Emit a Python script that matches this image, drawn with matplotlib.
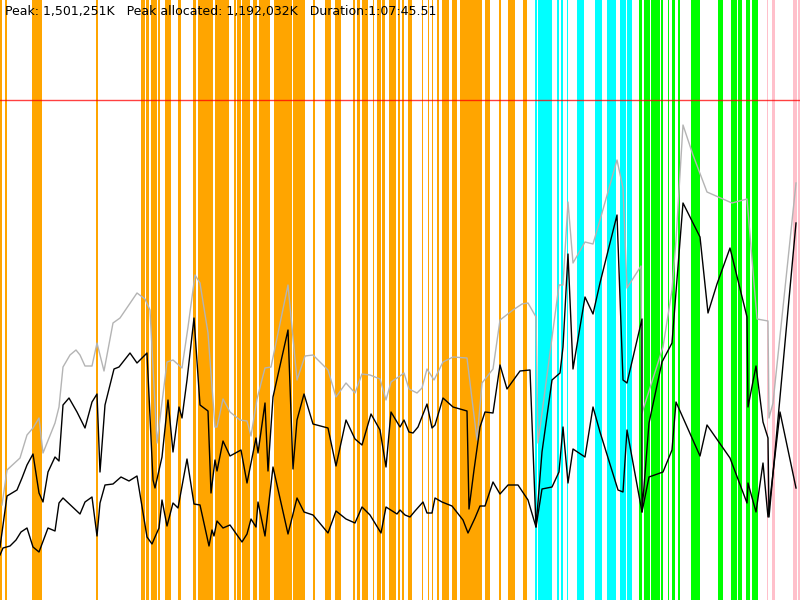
import matplotlib
matplotlib.use('Agg')
import matplotlib.pyplot as plt

# heap samples (x = time slot, value = height of the curve)
gris_x = [2, 7, 20, 27, 33, 39, 43, 55, 59, 63, 70, 76, 80, 85, 92, 97, 104, 113, 120, 137,
          145, 150, 157, 167, 173, 182, 188, 195, 200, 208, 215, 217, 223, 230, 240, 247, 251, 257, 265, 271,
          288, 297, 305, 313, 328, 336, 346, 355, 362, 370, 380, 386, 391, 400, 404, 409, 417, 422, 427, 434,
          443, 453, 467, 477, 482, 493, 500, 513, 522, 528, 536, 538, 559, 563, 568, 573, 585, 593, 600, 617,
          623, 627, 641, 642, 663, 672, 676, 683, 693, 707, 732, 747, 757, 768, 769, 773, 796]
gris_y = [95, 130, 142, 165, 172, 182, 147, 177, 193, 233, 245, 250, 245, 234, 234, 257, 229, 277, 282, 307,
          301, 290, 157, 238, 240, 232, 273, 325, 317, 267, 173, 173, 201, 188, 180, 179, 164, 201, 232, 233,
          315, 220, 244, 245, 230, 203, 217, 207, 226, 225, 221, 200, 218, 224, 227, 211, 207, 212, 231, 220,
          238, 243, 242, 160, 217, 231, 280, 290, 296, 297, 283, 157, 315, 315, 398, 337, 358, 356, 380, 440,
          412, 312, 334, 187, 253, 310, 360, 475, 445, 408, 397, 401, 281, 279, 182, 197, 417]

alto_x = [0, 7, 17, 22, 27, 33, 39, 43, 48, 55, 59, 63, 69, 77, 85, 92, 97, 100, 105, 114,
          119, 130, 137, 147, 153, 155, 162, 168, 173, 179, 182, 187, 194, 200, 208, 211, 215, 217, 223, 230,
          241, 247, 256, 258, 265, 268, 273, 288, 293, 297, 304, 313, 328, 336, 346, 355, 362, 371, 380, 386,
          391, 400, 404, 409, 413, 418, 427, 432, 435, 443, 453, 467, 469, 474, 480, 485, 493, 500, 507, 520,
          530, 536, 542, 552, 560, 563, 568, 573, 585, 593, 600, 617, 623, 627, 642, 642, 649, 662, 672, 683,
          700, 708, 717, 730, 747, 748, 756, 763, 768, 769, 796]
alto_y = [53, 104, 110, 122, 135, 146, 107, 98, 128, 143, 139, 195, 202, 188, 172, 198, 206, 128, 195, 231,
          233, 247, 237, 247, 120, 112, 143, 200, 148, 193, 182, 220, 282, 195, 189, 107, 140, 129, 159, 144,
          150, 117, 162, 147, 197, 129, 203, 270, 131, 180, 206, 176, 172, 134, 180, 161, 155, 186, 170, 133,
          188, 173, 180, 168, 167, 173, 196, 172, 175, 202, 193, 189, 91, 130, 173, 188, 187, 235, 211, 229,
          230, 73, 148, 220, 227, 253, 346, 231, 303, 286, 317, 385, 220, 217, 281, 88, 177, 238, 257, 397,
          363, 287, 316, 352, 283, 193, 234, 178, 162, 83, 377]

bajo_x = [0, 3, 10, 16, 21, 27, 33, 39, 48, 55, 59, 63, 80, 85, 92, 97, 100, 105, 113, 121,
          129, 137, 147, 152, 155, 159, 162, 167, 173, 178, 187, 194, 200, 209, 212, 214, 217, 223, 230, 242,
          247, 251, 256, 258, 265, 273, 288, 297, 304, 313, 328, 336, 346, 355, 362, 370, 381, 386, 397, 400,
          405, 410, 415, 423, 427, 432, 435, 442, 452, 463, 468, 475, 480, 485, 493, 500, 508, 518, 528, 536,
          542, 552, 559, 563, 568, 573, 585, 593, 600, 618, 623, 627, 642, 649, 663, 672, 676, 700, 707, 730,
          747, 748, 756, 763, 768, 780, 796]
bajo_y = [45, 52, 54, 60, 68, 72, 53, 48, 72, 69, 97, 102, 86, 98, 103, 64, 97, 115, 116, 123,
          119, 124, 63, 56, 63, 72, 100, 74, 97, 92, 141, 96, 95, 54, 70, 64, 79, 72, 75, 58,
          66, 81, 73, 98, 64, 133, 66, 102, 88, 85, 67, 89, 81, 77, 93, 85, 67, 93, 86, 90,
          85, 83, 89, 98, 87, 87, 102, 98, 94, 80, 67, 82, 94, 94, 118, 106, 115, 115, 100, 73,
          111, 113, 128, 173, 117, 151, 143, 193, 168, 110, 108, 170, 88, 123, 128, 150, 198, 144, 175, 142,
          97, 117, 88, 137, 83, 188, 112]

limite = 500

# eventos (inicio, fin)
naranja = [(0, 2), (5, 7), (32, 42), (96, 98), (141, 145), (146, 149), (151, 157), (158, 160), (165, 171),
           (178, 181), (193, 196), (198, 213), (215, 227), (227, 229), (234, 236), (237, 241), (242, 250),
           (253, 257), (259, 270), (274, 292), (293, 303), (303, 305), (313, 315), (325, 331), (335, 341),
           (353, 355), (357, 360), (362, 368), (373, 374), (377, 381), (382, 385), (389, 396), (398, 400),
           (402, 404), (408, 412), (422, 423), (428, 429), (432, 433), (437, 439), (442, 449), (452, 457),
           (460, 482), (485, 490), (499, 501), (508, 515), (523, 527)]
cian = [(535, 537), (538, 552), (557, 559), (561, 563), (567, 568), (577, 584), (595, 602), (607, 616),
        (620, 626), (627, 632)]
verde = [(639, 642), (644, 650), (651, 657), (657, 660), (661, 663), (668, 669), (672, 675), (678, 680),
         (691, 697), (697, 700), (718, 723), (731, 737), (738, 742), (746, 750), (752, 758)]
rosa = [(767, 768), (772, 775), (793, 797), (798, 800)]

texto = 'Peak: 1,501,251K   Peak allocated: 1,192,032K   Duration:1:07:45.51'

fig = plt.figure(figsize=(8, 6), dpi=100)
ax = fig.add_axes([0, 0, 1, 1])

for spans, color in [(naranja, '#ffa500'), (cian, '#00ffff'), (verde, '#00ff00'), (rosa, '#ffc0cb')]:
    for a, b in spans:
        ax.axvspan(a, b, color=color, lw=0)

ax.axhline(limite, color='#ff0000', lw=1, alpha=0.75)
ax.plot(gris_x, gris_y, color='#b4b4b4', lw=1)
ax.plot(alto_x, alto_y, color='black', lw=1)
ax.plot(bajo_x, bajo_y, color='black', lw=1)

ax.set_xlim(0, 800)
ax.set_ylim(0, 600)
ax.axis('off')

fig.text(5 / 800, 1 - 12 / 600, texto, fontsize=9, va='center', ha='left', color='black')

fig.savefig('out.png', dpi=100)
